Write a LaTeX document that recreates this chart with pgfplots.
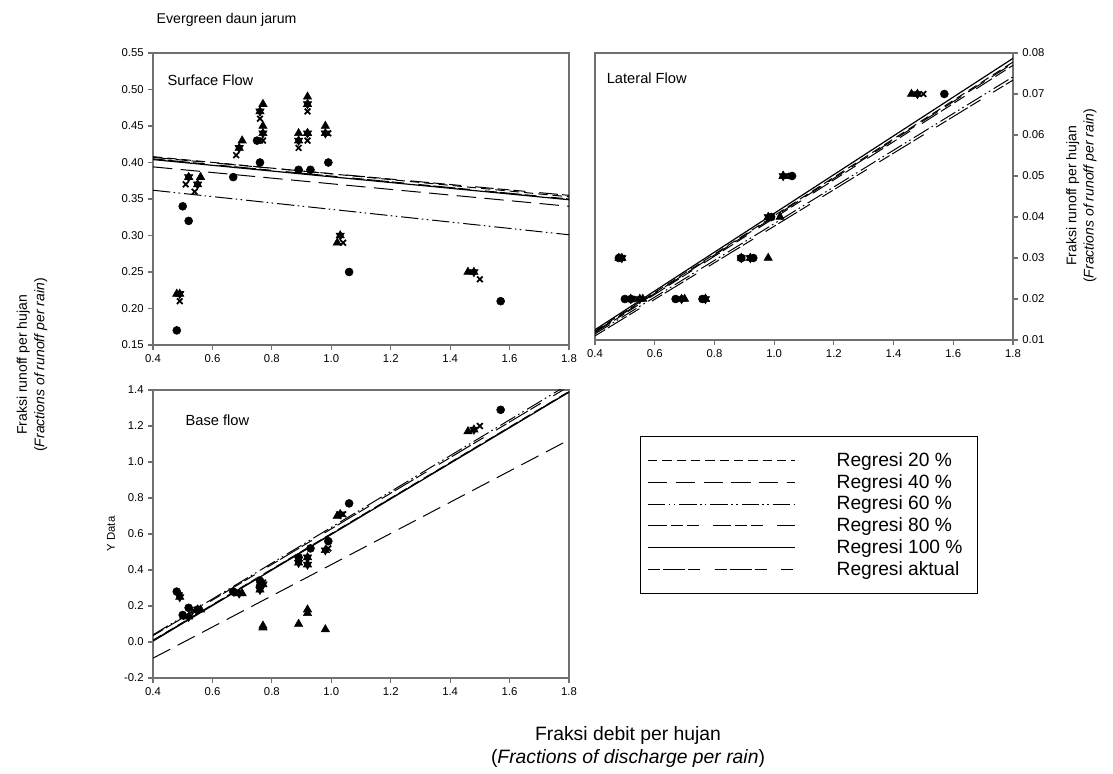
\documentclass[border=0pt]{standalone}
\usepackage{fontspec}
\setmainfont{Liberation Sans}
\usepackage{pgfplots}
\pgfplotsset{compat=1.18}
\definecolor{axisgray}{HTML}{707070}

\pgfplotsset{
  panel/.style={
    scale only axis,
    xmin=0.4, xmax=1.8,
    xtick={0.4,0.6,0.8,1.0,1.2,1.4,1.6,1.8},
    xtick pos=left,
    tick align=outside,
    major tick length=3.5pt,
    axis line style={draw=axisgray, line width=1.1pt},
    every tick/.style={draw=axisgray, line width=0.8pt},
    tick label style={font=\fontsize{8.5}{10}\selectfont},
    scaled y ticks=false,
    /pgf/number format/assume math mode=true,
    xticklabel style={/pgf/number format/fixed, /pgf/number format/fixed zerofill, /pgf/number format/precision=1},
  },
  yp/.style={yticklabel style={/pgf/number format/fixed, /pgf/number format/fixed zerofill, /pgf/number format/precision=#1}},
  pc/.style={only marks, mark=*, mark size=3pt, black, forget plot},
  pt/.style={only marks, mark=triangle*, mark size=3.6pt, black, forget plot},
  pd/.style={only marks, mark=triangle*, mark size=3.6pt, black, mark options={rotate=180}, forget plot},
  px/.style={only marks, mark=x, mark size=3pt, black, mark options={line width=1.3pt}, forget plot},
  r20/.style={black, mark=none, line width=0.75pt, dash pattern=on 7pt off 3.75pt},
  r40/.style={black, mark=none, line width=0.75pt, dash pattern=on 14.5pt off 6.3pt},
  r60/.style={black, mark=none, line width=0.75pt, dash pattern=on 13pt off 2.5pt on 1.2pt off 2.5pt on 1.2pt off 3pt},
  r80/.style={black, mark=none, line width=0.75pt, dash pattern=on 14pt off 3pt on 9pt off 3pt on 9pt off 10.5pt},
  r100/.style={black, mark=none, line width=0.9pt},
  rakt/.style={black, mark=none, line width=0.75pt, dash pattern=on 9pt off 2.25pt on 16.5pt off 2.25pt on 9pt off 11pt},
}

\begin{document}
\begin{tikzpicture}
\useasboundingbox (0,0) rectangle (834.75pt,580.5pt);

% Surface flow
\begin{axis}[panel,
  at={(114.75pt,321.75pt)}, anchor=south west,
  width=312pt, height=219pt,
  ymin=0.15, ymax=0.55,
  ytick={0.15,0.20,0.25,0.30,0.35,0.40,0.45,0.50,0.55},
  ytick pos=left, yp=2,
]
\addplot[r20] coordinates {(0.4,0.408) (1.8,0.353)};
\addplot[r40] coordinates {(0.4,0.394) (1.8,0.340)};
\addplot[r60] coordinates {(0.4,0.362) (1.8,0.301)};
\addplot[r80] coordinates {(0.4,0.407) (1.8,0.355)};
\addplot[r100] coordinates {(0.4,0.404) (1.8,0.349)};
\addplot[rakt] coordinates {(0.4,0.405) (1.8,0.350)};
\addplot[pc] coordinates {(0.48,0.17) (0.50,0.34) (0.52,0.32) (0.67,0.38) (0.75,0.43) (0.76,0.40) (0.89,0.39) (0.93,0.39) (0.99,0.40) (1.06,0.25) (1.57,0.21)};
\addplot[pt] coordinates {(0.48,0.22) (0.56,0.38) (0.70,0.43) (0.77,0.48) (0.77,0.45) (0.89,0.44) (0.92,0.49) (0.92,0.44) (0.98,0.45) (1.02,0.29) (1.46,0.25)};
\addplot[pt] coordinates {(0.49,0.22) (0.52,0.38) (0.55,0.37) (0.69,0.42) (0.76,0.47) (0.77,0.44) (0.89,0.43) (0.92,0.48) (0.92,0.44) (0.98,0.44) (1.03,0.30) (1.48,0.25)};
\addplot[pd] coordinates {(0.49,0.22) (0.52,0.38) (0.55,0.37) (0.69,0.42) (0.76,0.47) (0.77,0.44) (0.89,0.43) (0.92,0.48) (0.92,0.44) (0.98,0.44) (1.03,0.30) (1.48,0.25)};
\addplot[px] coordinates {(0.49,0.21) (0.51,0.37) (0.54,0.36) (0.68,0.41) (0.76,0.46) (0.77,0.43) (0.76,0.43) (0.89,0.42) (0.92,0.47) (0.92,0.43) (0.99,0.44) (1.04,0.29) (1.50,0.24)};
\node[anchor=west, font=\fontsize{11}{13}\selectfont] at (rel axis cs:0.024,0.9075) {Surface Flow};
\end{axis}

% Lateral flow
\begin{axis}[panel,
  at={(446.25pt,325.5pt)}, anchor=south west,
  width=313.5pt, height=215.25pt,
  ymin=0.01, ymax=0.08,
  ytick={0.01,0.02,0.03,0.04,0.05,0.06,0.07,0.08},
  ytick pos=right, yticklabel pos=right, yp=2,
]
\addplot[r20] coordinates {(0.4,0.0122) (1.8,0.0778)};
\addplot[r40] coordinates {(0.4,0.0120) (1.8,0.0775)};
\addplot[r60] coordinates {(0.4,0.0115) (1.8,0.0742)};
\addplot[r80] coordinates {(0.4,0.0118) (1.8,0.0770)};
\addplot[r100] coordinates {(0.4,0.0125) (1.8,0.0787)};
\addplot[rakt] coordinates {(0.4,0.0110) (1.8,0.0734)};
\addplot[pc] coordinates {(0.48,0.03) (0.50,0.02) (0.52,0.02) (0.67,0.02) (0.76,0.02) (0.89,0.03) (0.93,0.03) (0.99,0.04) (1.06,0.05) (1.57,0.07)};
\addplot[pt] coordinates {(0.48,0.03) (0.56,0.02) (0.70,0.02) (0.77,0.02) (0.98,0.03) (1.02,0.04) (1.03,0.05) (1.46,0.07)};
\addplot[pt] coordinates {(0.49,0.03) (0.52,0.02) (0.55,0.02) (0.69,0.02) (0.77,0.02) (0.89,0.03) (0.92,0.03) (0.98,0.04) (1.03,0.05) (1.48,0.07)};
\addplot[pd] coordinates {(0.49,0.03) (0.52,0.02) (0.55,0.02) (0.69,0.02) (0.77,0.02) (0.89,0.03) (0.92,0.03) (0.98,0.04) (1.03,0.05) (1.48,0.07)};
\addplot[px] coordinates {(0.49,0.03) (0.51,0.02) (0.54,0.02) (0.68,0.02) (0.76,0.02) (0.89,0.03) (0.92,0.03) (0.99,0.04) (1.04,0.05) (1.50,0.07)};
\node[anchor=west, font=\fontsize{11}{13}\selectfont] at (rel axis cs:0.017,0.913) {Lateral Flow};
\end{axis}

% Base flow
\begin{axis}[panel,
  at={(114.75pt,72pt)}, anchor=south west,
  width=312pt, height=216pt,
  ymin=-0.2, ymax=1.4,
  ytick={-0.2,0,0.2,0.4,0.6,0.8,1.0,1.2,1.4},
  ytick pos=left, yp=1,
  ylabel={Y Data},
  ylabel style={font=\fontsize{8.5}{10}\selectfont},
  legend style={at={(1.1707,0.8403)}, anchor=north west, draw=black, line width=0.75pt,
    fill=white, font=\fontsize{14.4}{16}\selectfont, inner xsep=5.2pt, inner ysep=10pt,
    row sep=0.4pt, cells={anchor=west, inner ysep=1pt},
    /tikz/every odd column/.append style={column sep=29pt}},
  legend cell align=left,
  legend image code/.code={\draw[#1] (0pt,0pt) -- (110pt,0pt);},
]
\addplot[r20] coordinates {(0.4,0.010) (1.8,1.392)};
\addlegendentry{\makebox[98.25pt][l]{Regresi 20 \%}}
\addplot[r40] coordinates {(0.4,-0.090) (1.8,1.123)};
\addlegendentry{\makebox[98.25pt][l]{Regresi 40 \%}}
\addplot[r60] coordinates {(0.4,0.040) (1.8,1.433)};
\addlegendentry{\makebox[98.25pt][l]{Regresi 60 \%}}
\addplot[r80] coordinates {(0.4,0.008) (1.8,1.390)};
\addlegendentry{\makebox[98.25pt][l]{Regresi 80 \%}}
\addplot[r100] coordinates {(0.4,0.005) (1.8,1.388)};
\addlegendentry{\makebox[98.25pt][l]{Regresi 100 \%}}
\addplot[rakt] coordinates {(0.4,0.035) (1.8,1.420)};
\addlegendentry{\makebox[98.25pt][l]{Regresi aktual}}
\addplot[pc] coordinates {(0.48,0.28) (0.50,0.15) (0.52,0.19) (0.55,0.18) (0.67,0.28) (0.76,0.34) (0.76,0.31) (0.89,0.47) (0.93,0.52) (0.99,0.56) (1.06,0.77) (1.57,1.29)};
\addplot[pt] coordinates {(0.77,0.09) (0.77,0.08) (0.89,0.10) (0.92,0.18) (0.92,0.16) (0.98,0.07) (1.46,1.17) (1.02,0.70) (0.70,0.27) (0.56,0.18)};
\addplot[pt] coordinates {(0.49,0.25) (0.52,0.14) (0.55,0.18) (0.69,0.27) (0.76,0.29) (0.77,0.32) (0.89,0.44) (0.92,0.43) (0.92,0.47) (0.98,0.51) (1.03,0.71) (1.48,1.18)};
\addplot[pd] coordinates {(0.49,0.25) (0.52,0.14) (0.55,0.18) (0.69,0.27) (0.76,0.29) (0.77,0.32) (0.89,0.44) (0.92,0.43) (0.92,0.47) (0.98,0.51) (1.03,0.71) (1.48,1.18)};
\addplot[px] coordinates {(0.49,0.26) (0.51,0.14) (0.54,0.17) (0.68,0.27) (0.76,0.30) (0.77,0.33) (0.89,0.45) (0.92,0.45) (0.99,0.52) (1.04,0.71) (1.50,1.20)};
\node[anchor=west, font=\fontsize{11}{13}\selectfont] at (rel axis cs:0.067,0.896) {Base flow};
\end{axis}

\node[anchor=west, font=\fontsize{10.6}{12}\selectfont] at (114pt,565.5pt) {Evergreen daun jarum};
\node[rotate=90, align=center, font=\fontsize{10.5}{13}\selectfont] at (24pt,306.75pt)
  {Fraksi runoff per hujan\\(\textit{Fractions of runoff per rain})};
\node[rotate=90, align=center, font=\fontsize{10.5}{13}\selectfont] at (811pt,433.5pt)
  {Fraksi runoff per hujan\\(\textit{Fractions of runoff per rain})};
\node[align=center, font=\fontsize{14.5}{17.25}\selectfont] at (471pt,20.6pt)
  {Fraksi debit per hujan\\(\textit{Fractions of discharge per rain})};
\end{tikzpicture}
\end{document}
